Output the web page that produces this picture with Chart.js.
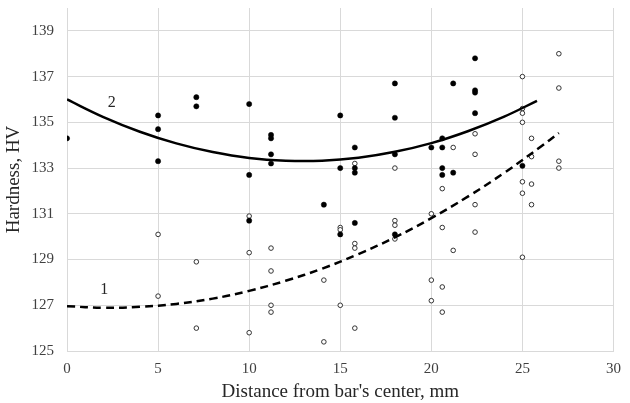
<!DOCTYPE html>
<html>
<head>
<meta charset="utf-8">
<script src="https://cdn.jsdelivr.net/npm/chart.js@4.4.1/dist/chart.umd.min.js"></script>
<style>
  html, body { margin: 0; padding: 0; background: #fff; }
  #wrap { width: 630px; height: 403px; }
</style>
</head>
<body>
<div id="wrap"><canvas id="grafico" width="630" height="403"></canvas></div>
<script>
// curve 2 (filled points)
const dist2 = [0, 5, 5, 5, 7.1, 7.1, 10, 10, 10, 11.2, 11.2, 11.2, 11.2, 14.1, 15, 15, 15, 15.8, 15.8, 15.8, 15.8, 18, 18, 18, 18, 20, 20.6, 20.6, 20.6, 20.6, 21.2, 21.2, 22.4, 22.4, 22.4, 22.4, 25];
const hard2 = [134.3, 135.3, 134.7, 133.3, 136.1, 135.7, 135.8, 132.7, 130.7, 134.45, 134.3, 133.6, 133.2, 131.4, 135.3, 133.0, 130.1, 133.9, 133.0, 132.8, 130.6, 136.7, 135.2, 133.6, 130.1, 133.9, 134.3, 133.9, 133.0, 132.7, 136.7, 132.8, 137.8, 136.4, 136.3, 135.4, 133.1];

// curve 1 (open points)
const dist1 = [5, 5, 7.1, 7.1, 10, 10, 10, 11.2, 11.2, 11.2, 11.2, 14.1, 14.1, 15, 15, 15, 15.8, 15.8, 15.8, 15.8, 18, 18, 18, 18, 20, 20, 20, 20.6, 20.6, 20.6, 20.6, 21.2, 21.2, 22.4, 22.4, 22.4, 22.4, 25, 25, 25, 25, 25, 25, 25, 25.5, 25.5, 25.5, 25.5, 27, 27, 27, 27];
const hard1 = [130.1, 127.4, 128.9, 126.0, 130.9, 129.3, 125.8, 129.5, 128.5, 127.0, 126.7, 128.1, 125.4, 130.4, 130.3, 127.0, 133.2, 129.7, 129.5, 126.0, 133.0, 130.7, 130.5, 129.9, 131.0, 128.1, 127.2, 132.1, 130.4, 127.8, 126.7, 133.9, 129.4, 134.5, 133.6, 131.4, 130.2, 137.0, 135.6, 135.4, 135.0, 132.4, 131.9, 129.1, 134.3, 133.5, 132.3, 131.4, 138.0, 136.5, 133.3, 133.0];

// trend lines
const trend2X = [0, 2, 4, 6, 8, 10, 12, 14, 16, 18, 20, 22, 24, 25.8];
const trend2Y = [136.0, 135.23, 134.59, 134.08, 133.7, 133.44, 133.32, 133.32, 133.45, 133.71, 134.09, 134.61, 135.25, 135.94];
const trend1X = [0, 2, 4, 6, 8, 10, 12, 14, 16, 18, 20, 22, 24, 26, 27];
const trend1Y = [126.96, 126.89, 126.93, 127.06, 127.29, 127.63, 128.07, 128.6, 129.24, 129.97, 130.81, 131.75, 132.79, 133.93, 134.53];

const xTicks = [0, 5, 10, 15, 20, 25, 30];
const yTicks = [125, 127, 129, 131, 133, 135, 137, 139];

// curve numbers: text, x, y
const curveLabels = [['2', 2.46, 135.86], ['1', 2.04, 127.66]];

const pts = (xs, ys) => xs.map((x, i) => ({ x: x, y: ys[i] }));

const curveLabelPlugin = {
  id: 'curveLabels',
  afterDatasetsDraw(chart) {
    const c = chart.ctx;
    c.save();
    c.font = '16px "Liberation Serif"';
    c.fillStyle = '#262626';
    c.textAlign = 'center';
    c.textBaseline = 'middle';
    curveLabels.forEach(l => {
      c.fillText(l[0], chart.scales.x.getPixelForValue(l[1]), chart.scales.y.getPixelForValue(l[2]));
    });
    c.restore();
  }
};

const serif = { family: '"Liberation Serif", "Times New Roman", serif' };

new Chart(document.getElementById('grafico').getContext('2d'), {
  type: 'scatter',
  data: {
    datasets: [
      {
        label: '2 trend',
        type: 'line',
        data: pts(trend2X, trend2Y),
        borderColor: '#000',
        borderWidth: 2.5,
        pointRadius: 0,
        tension: 0.4,
        fill: false
      },
      {
        label: '1 trend',
        type: 'line',
        data: pts(trend1X, trend1Y),
        borderColor: '#000',
        borderWidth: 2.5,
        borderDash: [8, 5],
        pointRadius: 0,
        tension: 0.4,
        fill: false
      },
      {
        label: '2',
        data: pts(dist2, hard2),
        pointRadius: 2.6,
        pointBackgroundColor: '#000',
        pointBorderColor: '#000',
        pointBorderWidth: 0.5
      },
      {
        label: '1',
        data: pts(dist1, hard1),
        pointRadius: 2.3,
        pointBackgroundColor: '#fff',
        pointBorderColor: '#333',
        pointBorderWidth: 1
      }
    ]
  },
  options: {
    responsive: false,
    animation: false,
    layout: { padding: { left: 0, right: 8, top: 8, bottom: 0 } },
    plugins: {
      legend: { display: false },
      tooltip: { enabled: false }
    },
    scales: {
      x: {
        type: 'linear',
        min: 0,
        max: 30,
        afterBuildTicks: s => { s.ticks = xTicks.map(v => ({ value: v })); },
        afterFit: s => { s.height = 52; },
        grid: { color: '#d9d9d9', drawTicks: false },
        border: { color: '#d9d9d9' },
        ticks: { padding: 9, color: '#404040', font: { ...serif, size: 15 } },
        title: {
          display: true,
          text: "Distance from bar's center, mm",
          color: '#262626',
          font: { ...serif, size: 19 },
          padding: { top: 0, bottom: 0 }
        }
      },
      y: {
        min: 125,
        max: 140,
        afterBuildTicks: s => { s.ticks = yTicks.map(v => ({ value: v })); },
        afterFit: s => { s.width = 67; s.paddingTop = 0; s.paddingBottom = 0; },
        grid: { color: '#d9d9d9', drawTicks: false },
        border: { color: '#d9d9d9' },
        ticks: { padding: 13, color: '#404040', font: { ...serif, size: 15 } },
        title: {
          display: true,
          text: 'Hardness, HV',
          color: '#262626',
          font: { ...serif, size: 19 },
          padding: { top: 3, bottom: 0 }
        }
      }
    }
  },
  plugins: [curveLabelPlugin]
});
</script>
</body>
</html>
